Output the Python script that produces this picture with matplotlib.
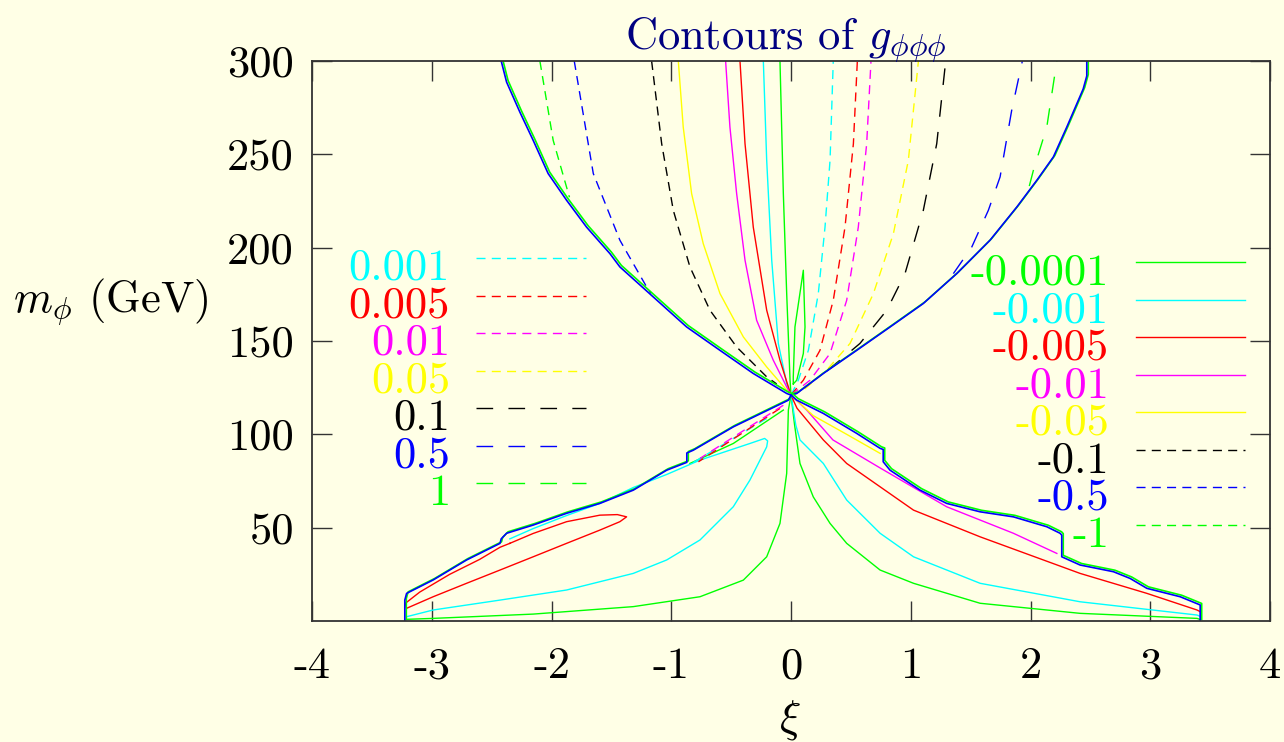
import numpy as np
import matplotlib.pyplot as plt
from matplotlib.transforms import offset_copy

plt.rcParams['mathtext.fontset'] = 'cm'
plt.rcParams['axes.unicode_minus'] = False

# key entries
pos_levels = ['0.001', '0.005', '0.01', '0.05', '0.1', '0.5', '1']
neg_levels = ['-0.0001', '-0.001', '-0.005', '-0.01', '-0.05', '-0.1', '-0.5', '-1']

x_ticks = [-4, -3, -2, -1, 0, 1, 2, 3, 4]
y_ticks = [50, 100, 150, 200, 250, 300]

# edge of the allowed region, (xi, m_phi)
edge_ul = [(-2.42, 300), (-2.375, 288.7), (-2.264, 272.6), (-2.153, 257.5), (-2.028, 239.7),
           (-1.874, 225.4), (-1.707, 211), (-1.512, 196.8), (-1.429, 189.7), (-1.15, 173.6),
           (-0.871, 157.5), (-0.593, 145), (-0.315, 132.6), (-0.036, 121.9), (0.0, 121)]
edge_ur = [(0.0, 121), (0.048, 121.9), (0.27, 132.6), (0.549, 145), (0.827, 157.5), (1.105, 170.1),
           (1.384, 186.1), (1.662, 204), (1.886, 221.8), (2.053, 236.1), (2.191, 248.6),
           (2.303, 264.6), (2.387, 277.1), (2.44, 285), (2.47, 292), (2.47, 300)]
edge_ll = [(0.0, 121), (-0.022, 118.3), (-0.482, 104), (-0.816, 91.5), (-0.87, 90), (-0.87, 85),
           (-1.038, 80.8), (-1.317, 70.1), (-1.596, 63), (-1.874, 57.7), (-2.153, 51.4),
           (-2.375, 47), (-2.42, 44), (-2.43, 41.6), (-2.709, 32.7), (-2.988, 22), (-3.21, 14.8),
           (-3.225, 11.2), (-3.225, 0)]
edge_lr = [(0.0, 121), (0.048, 118.3), (0.27, 111.2), (0.549, 100.5), (0.744, 92.5), (0.77, 91.9),
           (0.77, 85.3), (0.827, 80.8), (1.078, 70.1), (1.3, 63), (1.579, 58.5), (1.857, 55.8),
           (2.136, 50.5), (2.247, 47), (2.261, 46), (2.261, 34.4), (2.414, 30), (2.693, 26.4),
           (2.832, 22.8), (2.972, 17.5), (3.25, 13), (3.417, 8.6), (3.417, 0)]

# positive levels
p0001_up = [(0.0, 121), (0.061, 129), (0.145, 145), (0.228, 175.4), (0.284, 211), (0.326, 246.8),
            (0.353, 300)]
p0001_lo = [(-0.203, 108.5), (-0.83, 84.4)]
p0005_up = [(0.0, 121), (0.103, 129), (0.242, 145), (0.353, 171.8), (0.451, 211), (0.521, 255.7),
            (0.554, 300)]
p0005_lo = [(-0.092, 113.9), (-0.773, 85.3)]
p001_up = [(0.0, 121), (0.159, 129), (0.326, 143.3), (0.465, 171.8), (0.562, 211), (0.632, 255.7),
           (0.668, 300)]
p001_lo = [(-0.064, 115.6), (-0.76, 87.1)]
p005_up = [(0.0, 121), (0.103, 123.7), (0.298, 134.4), (0.493, 148.7), (0.688, 175.4),
           (0.855, 207.5), (0.98, 246.8), (1.064, 300)]
p01_up = [(0.3, 134), (0.409, 139.7), (0.576, 148.7), (0.8, 166.5), (0.952, 186.1), (1.105, 220),
          (1.217, 255.7), (1.292, 300)]
p05_up = [(1.356, 186.1), (1.51, 200.4), (1.648, 220), (1.746, 237.9), (1.843, 273.6), (1.932, 300)]
p1_up = [(1.99, 233), (2.024, 241.4), (2.136, 264.6), (2.22, 300)]

# negative levels
n00001_up = [(-0.092, 300), (-0.064, 229), (-0.036, 175.4), (-0.008, 129), (0.0, 121)]
n00001_loop = [(0.019, 127), (0.019, 130.8), (0.033, 157.5), (0.103, 187.9), (0.117, 157.5),
               (0.103, 143.3), (0.048, 129), (0.019, 127)]
n00001_ll = [(0.0, 121), (-0.022, 113), (-0.036, 79.1), (-0.092, 52.3), (-0.203, 34.4),
             (-0.398, 21.9), (-0.76, 13), (-1.317, 7.7), (-2.153, 3.7), (-2.988, 1.4), (-3.21, 0.9)]
n00001_edge = [(-0.064, 113), (-0.482, 95.1), (-0.844, 84.4)]
n00001_lr = [(0.0, 121), (0.03, 105), (0.075, 84.4), (0.186, 66.5), (0.326, 52.3), (0.465, 41.6),
             (0.744, 27.3), (1.023, 20.2), (1.579, 9.5), (2.414, 4.1), (3.39, 1.4), (3.417, 0.8)]
n0001_up = [(-0.231, 300), (-0.203, 246.8), (-0.161, 193.3), (-0.106, 148.7), (-0.036, 127.2),
            (0.0, 121)]
n0001_ll = [(-2.348, 44), (-2.153, 49.5), (-1.874, 56.5), (-1.596, 63), (-1.317, 71.5),
            (-1.038, 78.5), (-0.76, 86.2), (-0.343, 95.1), (-0.22, 97.8), (-0.195, 96.5),
            (-0.203, 93.3), (-0.343, 75.5), (-0.482, 61.2), (-0.76, 43.4), (-1.038, 32.7),
            (-1.317, 25.5), (-1.874, 16.6), (-2.43, 11.2), (-2.988, 5.9), (-3.21, 2.3)]
n0001_lr = [(0.0, 121), (0.04, 105), (0.075, 97), (0.27, 84.4), (0.465, 64.8), (0.744, 47),
            (1.023, 34.4), (1.579, 20.2), (2.414, 10.3), (3.39, 3.2), (3.417, 2.5)]
n0005_up = [(-0.426, 300), (-0.384, 255.7), (-0.315, 211), (-0.203, 166.5), (-0.092, 139.7),
            (-0.022, 125.4), (0.0, 121)]
n0005_ll = [(-2.348, 41.6), (-2.153, 46.9), (-1.874, 53.2), (-1.596, 56.7), (-1.45, 57),
            (-1.373, 55.8), (-1.429, 53.2), (-1.596, 48.7), (-1.874, 41.6), (-2.153, 34.4),
            (-2.43, 27.3), (-2.709, 20.2), (-2.988, 13), (-3.21, 6.8), (-3.22, 9.5), (-3.1, 15.5),
            (-2.85, 25), (-2.6, 33), (-2.43, 39.5), (-2.348, 41.6)]
n0005_lr = [(0.0, 121), (0.05, 114), (0.27, 97), (0.465, 84.4), (1.023, 59.4), (1.579, 45.1),
            (2.414, 25.5), (2.972, 14.8), (3.39, 5.9), (3.417, 5)]
n001_up = [(-0.546, 300), (-0.51, 264.6), (-0.454, 229), (-0.384, 193.3), (-0.287, 161.1),
           (-0.148, 139.7), (-0.036, 125.4), (0.0, 121)]
n001_lr = [(0.0, 121), (0.131, 113), (0.35, 97), (0.744, 82), (1.3, 61.2), (1.857, 47), (2.22, 36.2)]
n005_up = [(-0.941, 300), (-0.9, 264.6), (-0.83, 229), (-0.733, 202.2), (-0.593, 175.4),
           (-0.398, 152.2), (-0.203, 136.1), (-0.036, 123.7), (0.0, 121)]
n005_lr = [(0.0, 121), (0.186, 110), (0.465, 100), (0.744, 89.8)]
n01_up = [(-1.164, 300), (-1.08, 255.7), (-0.983, 220), (-0.844, 189.7), (-0.677, 166.5),
          (-0.454, 146.8), (-0.203, 130.8), (-0.12, 127)]
n05_up = [(-1.81, 300), (-1.651, 239.7), (-1.429, 204), (-1.206, 179), (-1.17, 175.5)]
n1_up = [(-2.097, 300), (-1.986, 257.5), (-1.85, 227)]

pos_curves = [[p0001_up, p0001_lo], [p0005_up, p0005_lo], [p001_up, p001_lo], [p005_up],
              [p01_up], [p05_up], [p1_up]]
neg_curves = [[n00001_up, n00001_loop, n00001_ll, n00001_edge, n00001_lr],
              [n0001_up, n0001_ll, n0001_lr], [n0005_up, n0005_ll, n0005_lr],
              [n001_up, n001_lr], [n005_up, n005_lr], [n01_up], [n05_up], [n1_up]]

# styles
bg = '#ffffe6'
pos_colors = ['#00ffff', '#ff0000', '#ff00ff', '#ffff00', '#000000', '#0000ff', '#00ff00']
neg_colors = ['#00ff00', '#00ffff', '#ff0000', '#ff00ff', '#ffff00', '#000000', '#0000ff', '#00ff00']
short = (6.5, 4.5)
long_ = (12, 11)
pos_dashes = [short, short, short, short, long_, long_, long_]
neg_dashes = [None, None, None, None, None, short, short, short]

fig = plt.figure(figsize=(12.84, 7.42), dpi=100, facecolor=bg)
ax = fig.add_axes([312 / 1284, 1 - 621 / 742, 958 / 1284, 560 / 742])
ax.set_facecolor(bg)


def draw(curve, color, dashes, lw=1.0, transform=None):
    pts = np.array(curve)
    kw = {} if transform is None else {'transform': transform}
    ln, = ax.plot(pts[:, 0], pts[:, 1], color=color, lw=lw, **kw)
    if dashes is not None:
        ln.set_dashes(dashes)
    return ln


for branches, c, d in zip(neg_curves, neg_colors, neg_dashes):
    for b in branches:
        draw(b, c, d)
for branches, c, d in zip(pos_curves, pos_colors, pos_dashes):
    for b in branches:
        draw(b, c, d)

# the edge is traced by several levels on top of each other
shifted = offset_copy(ax.transData, fig=fig, x=1.5, y=1.5, units='dots')
for e in [edge_ul, edge_ur, edge_ll, edge_lr]:
    draw(e, '#00ff00', None, lw=1.2, transform=shifted)
    draw(e, '#0000ff', None, lw=1.2)

ax.set_xlim(-4, 4)
ax.set_ylim(0, 300)
ax.set_xticks(x_ticks)
ax.set_xticklabels([str(t) for t in x_ticks], fontfamily='cmr10')
ax.set_yticks(y_ticks)
ax.set_yticklabels([str(t) for t in y_ticks], fontfamily='cmr10')
ax.tick_params(direction='in', length=14.4, width=1.0, top=True, right=True,
               labelsize=32, color='#333333')
ax.tick_params(axis='x', pad=19)
ax.tick_params(axis='y', pad=13)
for s in ax.spines.values():
    s.set_color('#333333')
    s.set_linewidth(1.3)

# key, drawn by hand as gnuplot does
row = 37.5 / 560
for i, (lab, c, d) in enumerate(zip(pos_levels, pos_colors, pos_dashes)):
    y = 1 - (258.3 - 61) / 560 - i * row
    ln, = ax.plot([0.171, 0.286], [y, y], color=c, lw=1.0, transform=ax.transAxes)
    ln.set_dashes(d)
    ax.text(0.144, y - 21.5 / 560, lab, color=c, fontsize=32, fontfamily='cmr10',
            ha='right', va='baseline', transform=ax.transAxes)
for i, (lab, c, d) in enumerate(zip(neg_levels, neg_colors, neg_dashes)):
    y = 1 - (262.3 - 61) / 560 - i * row
    ln, = ax.plot([0.860, 0.974], [y, y], color=c, lw=1.0, transform=ax.transAxes)
    if d is not None:
        ln.set_dashes(d)
    ax.text(0.832, y - 22.5 / 560, lab, color=c, fontsize=32, fontfamily='cmr10',
            ha='right', va='baseline', transform=ax.transAxes)

fig.text(786 / 1284, 1 - 48 / 742, r'Contours of $g_{\phi\phi\phi}$', color='#000080',
         fontsize=32, fontfamily='cmr10', ha='center', va='baseline')
fig.text(111 / 1284, 1 - 311 / 742, r'$m_\phi$ (GeV)', fontsize=32, fontfamily='cmr10',
         ha='center', va='baseline')
fig.text(790 / 1284, 1 - 720 / 742, r'$\xi$', fontsize=32, ha='center', va='center')

fig.savefig('out.png', dpi=100, facecolor=bg)
